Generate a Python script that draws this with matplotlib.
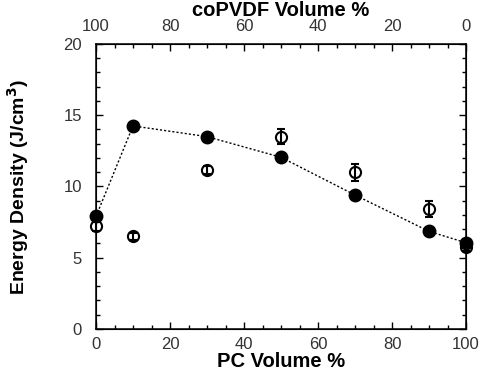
import numpy as np
import matplotlib.pyplot as plt
from matplotlib.ticker import MultipleLocator

plt.rcParams['font.family'] = ['Liberation Sans', 'DejaVu Sans']

# filled circles (with dotted guide line)
pc_filled = [0, 10, 30, 50, 70, 90, 100]
ed_filled = [7.9, 14.25, 13.5, 12.05, 9.4, 6.85, 6.05]

# open circles with error bars
pc_open = [0, 10, 30, 50, 70, 90, 100]
ed_open = [7.25, 6.5, 11.15, 13.5, 11.0, 8.4, 5.75]
ed_err = [0.4, 0.25, 0.3, 0.55, 0.6, 0.55, 0.3]

fig = plt.figure(figsize=(4.8, 3.76), dpi=100)
ax = fig.add_axes([0.2, 0.125, 0.771, 0.758])

ax.plot(pc_filled, ed_filled, linestyle=(0, (1.5, 1.5)), color='black', lw=1.0, zorder=2)
# open circles, with the error bar drawn over them
ax.plot(pc_open, ed_open, 'o', mfc='white', mec='black', mew=1.5, ms=8, zorder=3, clip_on=False)
ax.errorbar(pc_open, ed_open, yerr=ed_err, fmt='none', ecolor='black', elinewidth=1.5,
            capsize=3, capthick=1.5, zorder=3.5, clip_on=False)
ax.plot(pc_filled, ed_filled, 'o', color='black', ms=9, zorder=4, clip_on=False)

ax.set_xlim(0, 100)
ax.set_ylim(0, 20)
ax.xaxis.set_major_locator(MultipleLocator(20))
ax.xaxis.set_minor_locator(MultipleLocator(5))
ax.yaxis.set_major_locator(MultipleLocator(5))
ax.yaxis.set_minor_locator(MultipleLocator(1))
ax.tick_params(which='both', direction='in', right=True, labelsize=12, labelcolor='#333333')
ax.tick_params(axis='x', pad=6)
ax.tick_params(axis='y', pad=10)
ax.tick_params(which='major', length=5, width=1)
ax.tick_params(which='minor', length=3, width=1)
for s in ax.spines.values():
    s.set_linewidth(1.1)

ax.set_xlabel('PC Volume %', fontsize=14.5, fontweight='bold', labelpad=0)
ax.set_ylabel('Energy Density (J/cm$^\\mathbf{3}$)', fontsize=14, fontweight='bold')
ax.yaxis.set_label_coords(-0.175, 0.5)

top = ax.twiny()
top.set_xlim(100, 0)
top.xaxis.set_major_locator(MultipleLocator(20))
top.xaxis.set_minor_locator(MultipleLocator(5))
top.tick_params(which='both', direction='in', labelsize=12, labelcolor='#333333', pad=7)
top.tick_params(which='major', length=5, width=1)
top.tick_params(which='minor', length=3, width=1)
top.set_xlabel('coPVDF Volume %', fontsize=14.5, fontweight='bold', labelpad=2)

fig.savefig('out.png', dpi=100)
